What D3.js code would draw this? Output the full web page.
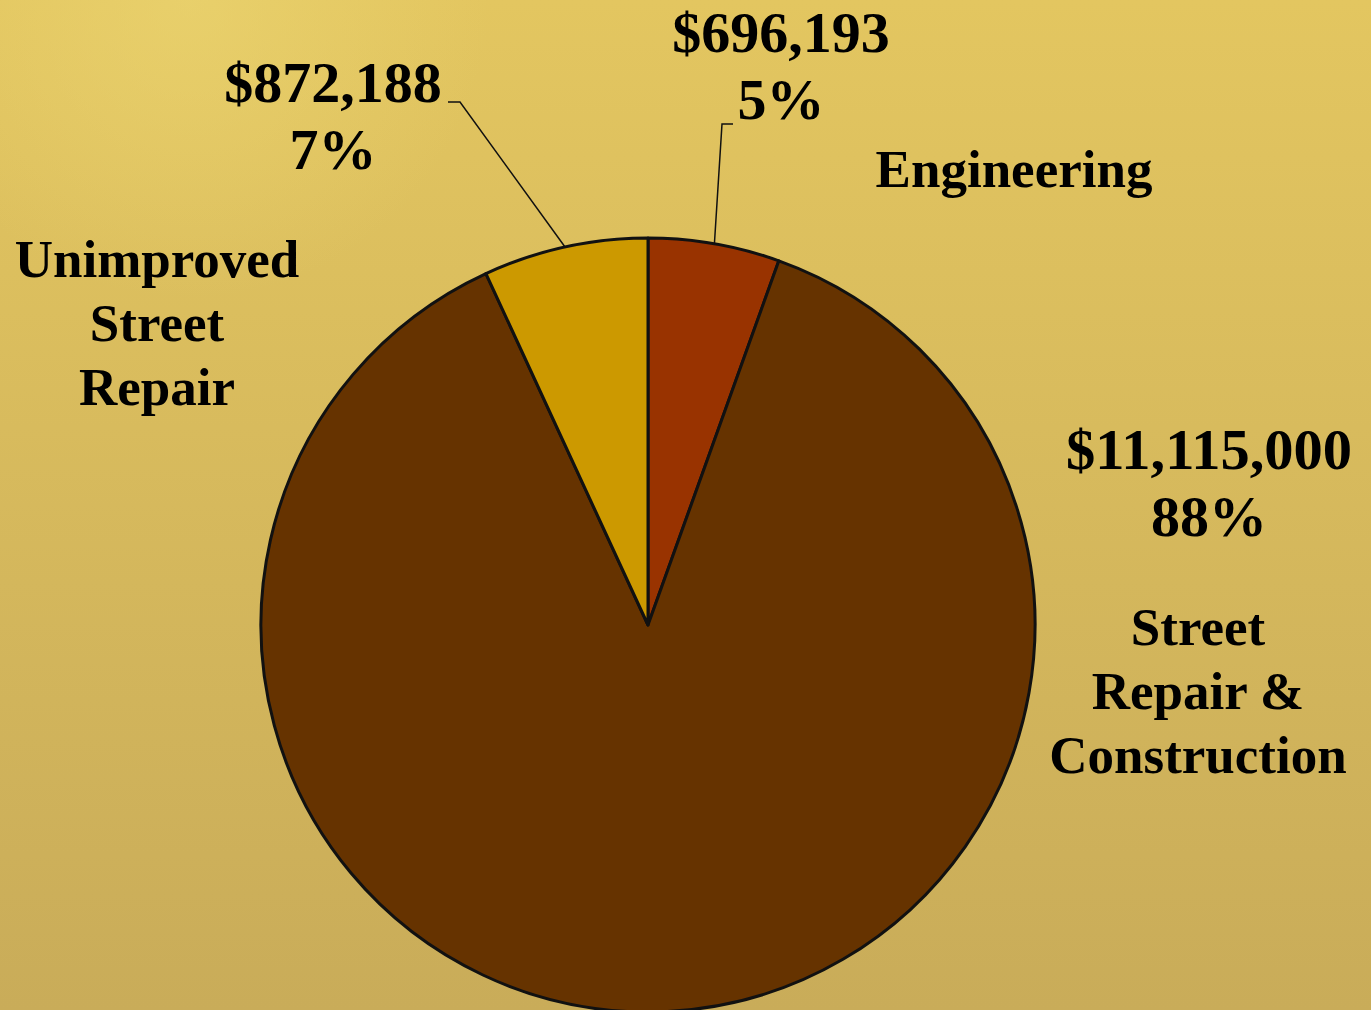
<!DOCTYPE html>
<html><head><meta charset="utf-8">
<script src="https://cdn.jsdelivr.net/npm/d3@7"></script>
<style>html,body{margin:0;padding:0;overflow:hidden;}svg{display:block;}</style>
</head><body>
<script>
const categories = ["Engineering", "Street Repair & Construction", "Unimproved Street Repair"];
const values = [696193, 11115000, 872188];
const valueLabels = ["$696,193", "$11,115,000", "$872,188"];
const percentLabels = ["5%", "88%", "7%"];
const nameLines = [["Engineering"], ["Street", "Repair &", "Construction"], ["Unimproved", "Street", "Repair"]];
const colors = ["#993300", "#663300", "#CC9900"];

const W = 1371, H = 1010;
const cx = 648, cy = 625, R = 387;
const svg = d3.select("body").append("svg").attr("width", W).attr("height", H);
const defs = svg.append("defs");
const lg = defs.append("linearGradient").attr("id","bg").attr("x1",0).attr("y1",0).attr("x2",0).attr("y2",1);
lg.append("stop").attr("offset","0%").attr("stop-color","#e3c660");
lg.append("stop").attr("offset","100%").attr("stop-color","#c9ac59");
const rg = defs.append("radialGradient").attr("id","glow").attr("gradientUnits","userSpaceOnUse")
  .attr("cx",190).attr("cy",0).attr("r",300);
rg.append("stop").attr("offset","0%").attr("stop-color","#ecd672").attr("stop-opacity",0.6);
rg.append("stop").attr("offset","100%").attr("stop-color","#ecd672").attr("stop-opacity",0);
svg.append("rect").attr("width",W).attr("height",H).attr("fill","url(#bg)");
svg.append("rect").attr("width",W).attr("height",H).attr("fill","url(#glow)");

const pie = d3.pie().sort(null).value(d => d)(values);
const arc = d3.arc().innerRadius(0).outerRadius(R);
const g = svg.append("g").attr("transform", `translate(${cx},${cy})`);
g.selectAll("path").data(pie).join("path")
  .attr("d", arc).attr("fill", (d,i) => colors[i])
  .attr("stroke", "#111").attr("stroke-width", 3).attr("stroke-linejoin","round");

const font = "'Liberation Serif','Times New Roman',serif";
function txt(x, y, s, size, extra) {
  const t = svg.append("text").attr("x", x).attr("y", y).attr("text-anchor", "middle")
    .attr("font-family", font).attr("font-weight", "bold").attr("font-size", size).attr("fill", "#000").text(s);
  if (extra) extra(t);
  return t;
}
const valuePos = [[781, 52], [1209, 469], [333, 102]];
valueLabels.forEach((s, i) => {
  const [x, y] = valuePos[i];
  txt(x, y, s, 58, i === 1 ? t => t.attr("textLength", 286).attr("lengthAdjust","spacingAndGlyphs") : null);
  txt(x, y + 67, percentLabels[i], 58);
});
const namePos = [[1014, 187], [1198, 645], [157, 277]];
nameLines.forEach((lines, i) => {
  lines.forEach((s, j) => txt(namePos[i][0], namePos[i][1] + j * 64, s, 53));
});

const elbows = {0: [[722, 124], [733, 124]], 2: [[460, 102], [448, 102]]};
Object.keys(elbows).forEach(k => {
  const d = pie[k];
  const a = (d.startAngle + d.endAngle) / 2;
  const p0 = [cx + R * Math.sin(a), cy - R * Math.cos(a)];
  svg.append("path").attr("d", d3.line()([p0, ...elbows[k]])).attr("fill", "none").attr("stroke", "#111").attr("stroke-width", 1.5);
});
</script>
</body></html>
